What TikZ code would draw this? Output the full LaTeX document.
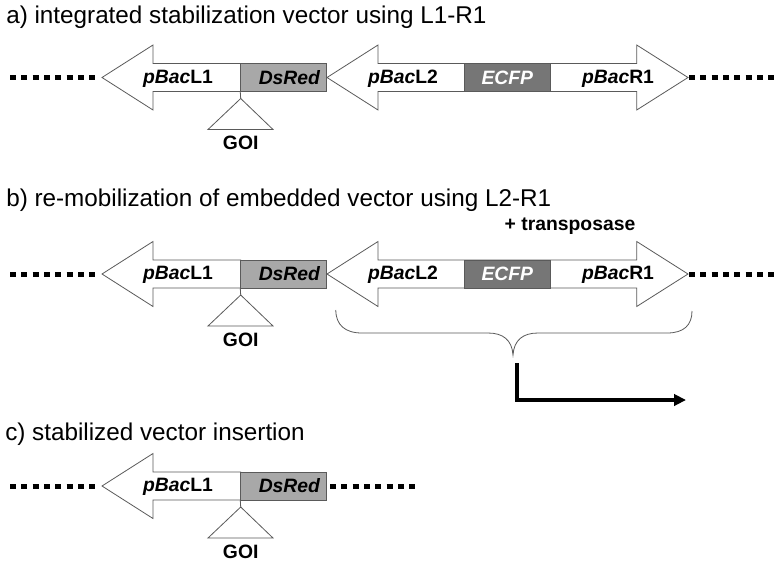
\documentclass[tikz,border=0pt]{standalone}
\usepackage{fontspec}
\setmainfont{Liberation Sans}
\usetikzlibrary{arrows.meta}
\definecolor{dsgray}{HTML}{A8A8A8}
\definecolor{ecgray}{HTML}{767676}
\definecolor{edgegray}{HTML}{5A5A5A}
\tikzset{
  titletext/.style={anchor=base west, inner sep=0pt, font=\fontsize{18.2}{20}\selectfont},
  lab/.style={anchor=base, inner sep=0pt, font=\fontsize{14.5}{16}\selectfont\bfseries},
  outline/.style={draw=edgegray, line width=0.6pt, fill=white, line join=miter},
  thinline/.style={draw=edgegray, line width=0.6pt},
  dotline/.style={line width=3.75pt, dash pattern=on 4.5pt off 4pt},
  dsbox/.style={draw=edgegray, line width=0.6pt, fill=dsgray, minimum width=64pt, minimum height=21pt,
    text width=55pt, align=right, inner xsep=4.5pt, inner ysep=0pt,
    font=\fontsize{14.5}{16}\selectfont\bfseries\itshape},
  ecbox/.style={draw=edgegray, line width=0.6pt, fill=ecgray, minimum width=65pt, minimum height=21pt,
    inner sep=0pt, text=white, font=\fontsize{14.5}{16}\selectfont\bfseries\itshape},
  bentarrow/.style={line width=3pt, line join=miter, -{Triangle[length=9pt,width=8.5pt]}}
}
\begin{document}
\begin{tikzpicture}[x=0.75pt,y=-0.75pt]
\fill[white] (0,0) rectangle (774,561);
\useasboundingbox (0,0) rectangle (774,561);

% titles
\node[titletext] (ta) at (6,23.5) {a) integrated stabilization vector using L1-R1};
\node[titletext] (tb) at (6,206) {b) re-mobilization of embedded vector using L2-R1};
\node[titletext] (tc) at (5,440.5) {c) stabilized vector insertion};

% ---------- row a ----------
\begin{scope}[shift={(0,77.5)}]
  \draw[dotline] (10,0) coordinate (adl) -- (95.33,0) coordinate (adle);
  \draw[outline] (102,0) -- (153,-32.5) -- (153,-14) -- (240.7,-14) -- (240.7,14) -- (153,14) -- (153,32.5) -- cycle;
  \node[dsbox] (dsA) at (283.35,0) {DsRed};
  \draw[outline] (327,0) -- (378,-32.5) -- (378,-14) -- (636.7,-14) -- (636.7,-32.5) -- (688,0)
     -- (636.7,32.5) -- (636.7,14) -- (378,14) -- (378,32.5) -- cycle;
  \node[ecbox] (ecA) at (507.35,0) {ECFP};
  \draw[dotline] (689,0) coordinate (adr) -- (774.33,0) coordinate (adre);
  \node[lab] (l1A) at (178,5.5) {\textit{pBac}L1};
  \node[lab] (l2A) at (403,5.5) {\textit{pBac}L2};
  \node[lab] (r1A) at (618,5.5) {\textit{pBac}R1};
  \coordinate (apexA) at (240.7,21);
  \draw[thinline] (dsA.south west) -- (apexA);
  \draw[outline] (apexA) -- (208,52) -- (273,52) -- cycle;
  \node[lab] (goiA) at (240.7,72) {GOI};
\end{scope}

% ---------- row b ----------
\begin{scope}[shift={(0,274)}]
  \draw[dotline] (10,0) coordinate (bdl) -- (95.33,0) coordinate (bdle);
  \draw[outline] (102,0) -- (153,-32.5) -- (153,-14) -- (240.7,-14) -- (240.7,14) -- (153,14) -- (153,32.5) -- cycle;
  \node[dsbox] (dsB) at (283.35,0) {DsRed};
  \draw[outline] (327,0) -- (378,-32.5) -- (378,-14) -- (636.7,-14) -- (636.7,-32.5) -- (688,0)
     -- (636.7,32.5) -- (636.7,14) -- (378,14) -- (378,32.5) -- cycle;
  \node[ecbox] (ecB) at (507.35,0) {ECFP};
  \draw[dotline] (689,0) coordinate (bdr) -- (774.33,0) coordinate (bdre);
  \node[lab] (l1B) at (178,5.5) {\textit{pBac}L1};
  \node[lab] (l2B) at (403,5.5) {\textit{pBac}L2};
  \node[lab] (r1B) at (618,5.5) {\textit{pBac}R1};
  \coordinate (apexB) at (240.7,21);
  \draw[thinline] (dsB.south west) -- (apexB);
  \draw[outline] (apexB) -- (208,52) -- (273,52) -- cycle;
  \node[lab] (goiB) at (240.7,72) {GOI};
\end{scope}
\node[lab] (trans) at (570,230) {+ transposase};
\coordinate (braceTip) at (513,355);
\draw[thinline] (335.7,310) .. controls (336,325) and (345,333) .. (362,333) -- (488,333)
   .. controls (503,333) and (512,340) .. (braceTip)
   .. controls (514,340) and (523,333) .. (538,333) -- (667,333)
   .. controls (684,333) and (692,325) .. (692,311);
\coordinate (bendStart) at (516.7,363);
\coordinate (bendEnd) at (686,400);
\draw[bentarrow] (bendStart) |- (bendEnd);

% ---------- row c ----------
\begin{scope}[shift={(0,486)}]
  \draw[dotline] (10,0) coordinate (cdl) -- (95.33,0) coordinate (cdle);
  \draw[outline] (102,0) -- (153,-32.5) -- (153,-14) -- (240.7,-14) -- (240.7,14) -- (153,14) -- (153,32.5) -- cycle;
  \node[dsbox] (dsC) at (283.35,0) {DsRed};
  \draw[dotline] (330,0) coordinate (cdr) -- (415.33,0) coordinate (cdre);
  \node[lab] (l1C) at (178,5.5) {\textit{pBac}L1};
  \coordinate (apexC) at (240.7,21);
  \draw[thinline] (dsC.south west) -- (apexC);
  \draw[outline] (apexC) -- (208,52) -- (273,52) -- cycle;
  \node[lab] (goiC) at (240.7,72) {GOI};
\end{scope}
\end{tikzpicture}
\end{document}
